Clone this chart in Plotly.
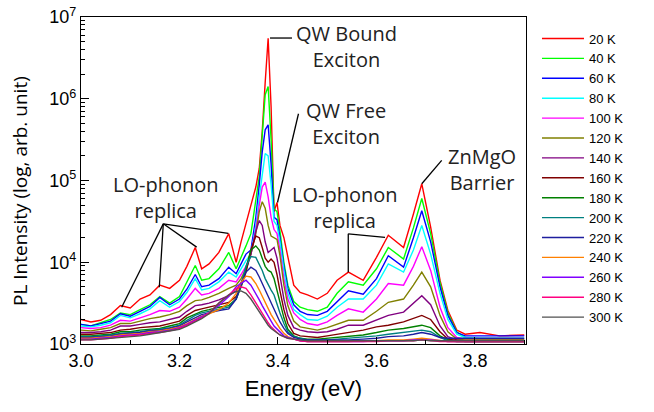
import numpy as np
import plotly.graph_objects as go

# Photon energy (eV) sampling positions
energy_ev = [3.000, 3.020, 3.040, 3.060, 3.080, 3.100, 3.120, 3.140, 3.160, 3.180,
             3.200, 3.215, 3.232, 3.245, 3.260, 3.280, 3.300, 3.315, 3.325, 3.335,
             3.345, 3.355, 3.362, 3.368, 3.374, 3.380, 3.386, 3.392, 3.398, 3.404,
             3.412, 3.420, 3.432, 3.445, 3.460, 3.480, 3.500, 3.520, 3.543, 3.573,
             3.600, 3.624, 3.655, 3.675, 3.692, 3.710, 3.729, 3.745, 3.763, 3.780,
             3.810, 3.850, 3.900]

# log10 of PL intensity (arb. unit), one list per temperature
log_pl_20K = [3.30, 3.27, 3.29, 3.36, 3.47, 3.44, 3.55, 3.60, 3.72, 3.68,
              3.78, 3.95, 4.18, 3.92, 3.98, 4.12, 4.35, 4.00, 4.25, 4.47,
              4.70, 4.92, 5.15, 5.60, 6.20, 6.74, 5.90, 4.62, 4.73, 4.45,
              4.30, 4.05, 3.72, 3.63, 3.60, 3.55, 3.62, 3.78, 3.88, 3.78,
              4.06, 4.33, 4.18, 4.59, 4.96, 4.43, 3.78, 3.41, 3.17, 3.12,
              3.14, 3.10, 3.11]
log_pl_40K = [3.24, 3.22, 3.26, 3.30, 3.38, 3.36, 3.42, 3.48, 3.58, 3.50,
              3.58, 3.75, 3.96, 3.78, 3.80, 3.92, 4.12, 3.92, 4.05, 4.20,
              4.35, 4.75, 5.05, 5.55, 6.05, 6.15, 5.50, 4.65, 4.62, 4.38,
              4.00, 3.72, 3.52, 3.45, 3.42, 3.40, 3.45, 3.62, 3.76, 3.72,
              3.92, 4.18, 4.04, 4.42, 4.78, 4.35, 3.75, 3.38, 3.15, 3.08,
              3.05, 3.06, 3.05]
log_pl_60K = [3.24, 3.22, 3.25, 3.28, 3.37, 3.34, 3.40, 3.46, 3.57, 3.48,
              3.55, 3.67, 3.85, 3.70, 3.72, 3.80, 3.94, 3.86, 3.98, 4.10,
              4.15, 4.55, 4.95, 5.35, 5.62, 5.68, 5.20, 4.55, 4.52, 4.30,
              3.95, 3.68, 3.48, 3.40, 3.36, 3.35, 3.40, 3.52, 3.65, 3.61,
              3.80, 4.08, 3.94, 4.30, 4.63, 4.25, 3.70, 3.35, 3.14, 3.10,
              3.10, 3.10, 3.10]
log_pl_80K = [3.22, 3.21, 3.23, 3.26, 3.35, 3.32, 3.37, 3.43, 3.53, 3.45,
              3.52, 3.63, 3.80, 3.66, 3.68, 3.76, 3.88, 3.82, 3.92, 4.02,
              4.10, 4.45, 4.80, 5.10, 5.33, 5.30, 4.95, 4.50, 4.45, 4.25,
              3.90, 3.62, 3.42, 3.36, 3.30, 3.29, 3.34, 3.45, 3.55, 3.55,
              3.72, 3.98, 3.88, 4.15, 4.45, 4.10, 3.62, 3.30, 3.12, 3.08,
              3.07, 3.07, 3.07]
log_pl_100K = [3.20, 3.19, 3.20, 3.23, 3.29, 3.28, 3.32, 3.36, 3.41, 3.40,
               3.45, 3.55, 3.68, 3.60, 3.62, 3.68, 3.78, 3.76, 3.85, 3.95,
               4.10, 4.40, 4.70, 4.92, 4.98, 4.80, 4.55, 4.40, 4.35, 4.15,
               3.80, 3.55, 3.38, 3.30, 3.25, 3.23, 3.27, 3.35, 3.43, 3.39,
               3.55, 3.74, 3.72, 3.95, 4.19, 3.90, 3.45, 3.20, 3.08, 3.06,
               3.06, 3.06, 3.06]
log_pl_120K = [3.17, 3.16, 3.18, 3.20, 3.25, 3.25, 3.28, 3.31, 3.33, 3.36,
               3.40, 3.47, 3.53, 3.54, 3.57, 3.62, 3.68, 3.72, 3.80, 3.92,
               4.10, 4.35, 4.62, 4.74, 4.66, 4.45, 4.32, 4.30, 4.28, 4.08,
               3.72, 3.47, 3.28, 3.21, 3.19, 3.17, 3.20, 3.24, 3.29, 3.29,
               3.40, 3.51, 3.55, 3.72, 3.88, 3.70, 3.35, 3.15, 3.06, 3.05,
               3.05, 3.05, 3.05]
log_pl_140K = [3.14, 3.14, 3.15, 3.17, 3.22, 3.22, 3.24, 3.26, 3.27, 3.30,
               3.33, 3.40, 3.47, 3.48, 3.50, 3.54, 3.59, 3.65, 3.75, 3.90,
               4.10, 4.38, 4.51, 4.45, 4.25, 4.12, 4.15, 4.18, 4.05, 3.85,
               3.55, 3.35, 3.20, 3.17, 3.15, 3.14, 3.15, 3.18, 3.23, 3.23,
               3.29, 3.35, 3.39, 3.50, 3.59, 3.48, 3.22, 3.09, 3.05, 3.04,
               3.04, 3.04, 3.04]
log_pl_160K = [3.12, 3.12, 3.13, 3.14, 3.17, 3.18, 3.20, 3.21, 3.22, 3.25,
               3.28, 3.35, 3.41, 3.43, 3.45, 3.48, 3.51, 3.58, 3.70, 3.88,
               4.15, 4.32, 4.30, 4.18, 4.05, 4.00, 4.04, 4.00, 3.85, 3.65,
               3.42, 3.25, 3.13, 3.10, 3.09, 3.08, 3.10, 3.12, 3.14, 3.17,
               3.21, 3.23, 3.27, 3.31, 3.35, 3.30, 3.15, 3.06, 3.04, 3.03,
               3.03, 3.03, 3.03]
log_pl_180K = [3.10, 3.10, 3.11, 3.12, 3.15, 3.15, 3.17, 3.18, 3.19, 3.22,
               3.25, 3.32, 3.37, 3.40, 3.42, 3.45, 3.47, 3.55, 3.70, 3.92,
               4.15, 4.20, 4.15, 4.05, 3.95, 3.90, 3.88, 3.80, 3.65, 3.50,
               3.32, 3.18, 3.10, 3.07, 3.06, 3.06, 3.07, 3.08, 3.09, 3.11,
               3.14, 3.17, 3.19, 3.21, 3.23, 3.20, 3.10, 3.05, 3.03, 3.03,
               3.03, 3.03, 3.03]
log_pl_200K = [3.09, 3.09, 3.10, 3.11, 3.13, 3.14, 3.15, 3.17, 3.18, 3.20,
               3.23, 3.29, 3.35, 3.38, 3.40, 3.43, 3.45, 3.55, 3.72, 3.95,
               4.07, 4.06, 3.98, 3.90, 3.80, 3.72, 3.66, 3.60, 3.48, 3.38,
               3.25, 3.15, 3.09, 3.07, 3.05, 3.05, 3.05, 3.06, 3.07, 3.08,
               3.10, 3.12, 3.14, 3.16, 3.17, 3.15, 3.08, 3.04, 3.03, 3.03,
               3.03, 3.03, 3.03]
log_pl_220K = [3.08, 3.08, 3.09, 3.10, 3.12, 3.13, 3.14, 3.16, 3.17, 3.19,
               3.22, 3.27, 3.32, 3.36, 3.38, 3.41, 3.43, 3.55, 3.72, 3.88,
               3.94, 3.90, 3.82, 3.74, 3.65, 3.57, 3.49, 3.41, 3.34, 3.27,
               3.19, 3.13, 3.08, 3.06, 3.05, 3.05, 3.05, 3.05, 3.05, 3.06,
               3.07, 3.09, 3.10, 3.12, 3.14, 3.12, 3.08, 3.07, 3.07, 3.07,
               3.07, 3.07, 3.07]
log_pl_240K = [3.07, 3.07, 3.08, 3.09, 3.11, 3.12, 3.13, 3.15, 3.16, 3.18,
               3.21, 3.25, 3.30, 3.34, 3.37, 3.42, 3.50, 3.62, 3.75, 3.83,
               3.82, 3.74, 3.66, 3.58, 3.50, 3.43, 3.36, 3.30, 3.24, 3.19,
               3.13, 3.09, 3.06, 3.04, 3.03, 3.03, 3.03, 3.03, 3.03, 3.04,
               3.04, 3.05, 3.05, 3.06, 3.07, 3.06, 3.04, 3.03, 3.03, 3.03,
               3.03, 3.03, 3.03]
log_pl_260K = [3.06, 3.06, 3.07, 3.08, 3.10, 3.11, 3.12, 3.14, 3.15, 3.17,
               3.20, 3.24, 3.29, 3.33, 3.38, 3.47, 3.58, 3.70, 3.74, 3.78,
               3.72, 3.62, 3.54, 3.47, 3.40, 3.34, 3.28, 3.22, 3.18, 3.14,
               3.10, 3.08, 3.06, 3.04, 3.03, 3.03, 3.03, 3.03, 3.03, 3.03,
               3.04, 3.04, 3.04, 3.05, 3.05, 3.05, 3.04, 3.03, 3.03, 3.03,
               3.03, 3.03, 3.03]
log_pl_280K = [3.05, 3.05, 3.06, 3.07, 3.09, 3.10, 3.11, 3.13, 3.14, 3.16,
               3.19, 3.23, 3.28, 3.32, 3.38, 3.50, 3.60, 3.68, 3.70, 3.68,
               3.60, 3.50, 3.43, 3.37, 3.31, 3.26, 3.21, 3.17, 3.14, 3.11,
               3.09, 3.07, 3.06, 3.04, 3.03, 3.03, 3.03, 3.03, 3.03, 3.03,
               3.03, 3.04, 3.04, 3.04, 3.05, 3.04, 3.03, 3.03, 3.03, 3.03,
               3.03, 3.03, 3.03]
log_pl_300K = [3.05, 3.05, 3.06, 3.07, 3.08, 3.09, 3.10, 3.12, 3.14, 3.16,
               3.18, 3.22, 3.27, 3.31, 3.37, 3.50, 3.60, 3.64, 3.65, 3.62,
               3.55, 3.46, 3.40, 3.34, 3.28, 3.23, 3.19, 3.16, 3.13, 3.11,
               3.09, 3.07, 3.06, 3.05, 3.04, 3.04, 3.04, 3.04, 3.04, 3.04,
               3.04, 3.04, 3.04, 3.04, 3.05, 3.04, 3.04, 3.04, 3.04, 3.04,
               3.04, 3.04, 3.04]

temperature_labels = ["20 K", "40 K", "60 K", "80 K", "100 K", "120 K", "140 K",
                      "160 K", "180 K", "200 K", "220 K", "240 K", "260 K",
                      "280 K", "300 K"]
series_colors = ["#FF0000", "#00FF00", "#0000FF", "#00FFFF", "#FF00FF", "#808000",
                 "#800080", "#800000", "#008000", "#008080", "#1E1E9E", "#FF8000",
                 "#8000FF", "#FF0080", "#505050"]

x_tick_vals = [3.0, 3.2, 3.4, 3.6, 3.8]
x_tick_text = ["3.0", "3.2", "3.4", "3.6", "3.8"]
y_tick_vals = [1e3, 1e4, 1e5, 1e6, 1e7]
y_tick_text = ["10<sup>3</sup>", "10<sup>4</sup>", "10<sup>5</sup>",
               "10<sup>6</sup>", "10<sup>7</sup>"]

all_series = [log_pl_20K, log_pl_40K, log_pl_60K, log_pl_80K, log_pl_100K,
              log_pl_120K, log_pl_140K, log_pl_160K, log_pl_180K, log_pl_200K,
              log_pl_220K, log_pl_240K, log_pl_260K, log_pl_280K, log_pl_300K]

fig = go.Figure()
for name, color, logs in zip(temperature_labels, series_colors, all_series):
    fig.add_trace(go.Scatter(
        x=energy_ev, y=10 ** np.array(logs), mode="lines", name=name,
        line=dict(color=color, width=1.4)))

ANN_FONT = "Open Sans, Lato, sans-serif"
TICK_FONT = "Liberation Sans, Arial, sans-serif"

minor_y = [m * 10 ** d for d in range(3, 7) for m in range(2, 10)]

fig.update_layout(
    width=654, height=412,
    margin=dict(l=81, r=128, t=17, b=68),
    paper_bgcolor="white", plot_bgcolor="white",
    showlegend=True,
    legend=dict(x=1.0247, y=0.98, xanchor="left", yanchor="top",
                font=dict(family=TICK_FONT, size=13, color="black"),
                bgcolor="rgba(0,0,0,0)", tracegroupgap=0, itemwidth=42),
    xaxis=dict(range=[3.0, 3.9036], tickvals=x_tick_vals, ticktext=x_tick_text,
               automargin=False, ticklabeloverflow="allow",
               ticks="inside", ticklen=7, tickwidth=1.2, tickcolor="black",
               showline=True, linecolor="black", linewidth=1.3, mirror=True,
               showgrid=False, zeroline=False,
               minor=dict(tickvals=[3.1, 3.3, 3.5, 3.7, 3.9], ticks="inside",
                          ticklen=4, tickcolor="black", tickwidth=1.2),
               tickfont=dict(family=TICK_FONT, size=18, color="black"),
               title=dict(text="Energy (eV)", standoff=10,
                          font=dict(family=TICK_FONT, size=22, color="black"))),
    yaxis=dict(type="log", range=[3, 7], tickvals=y_tick_vals, ticktext=y_tick_text,
               automargin=False, ticklabeloverflow="allow",
               ticks="inside", ticklen=8, tickwidth=1.2, tickcolor="black",
               showline=True, linecolor="black", linewidth=1.3, mirror=True,
               showgrid=False, zeroline=False,
               minor=dict(tickvals=minor_y, ticks="inside", ticklen=4,
                          tickcolor="black", tickwidth=1.0),
               tickfont=dict(family=TICK_FONT, size=18, color="black")),
)

# y-axis title, placed where the reference puts it (slightly below centre)
fig.add_annotation(text="PL Intensity (log, arb. unit)", xref="paper", yref="paper",
                   x=-0.137, y=0.468, textangle=-90, showarrow=False,
                   xanchor="center", yanchor="middle",
                   font=dict(family=ANN_FONT, size=19, color="black"))

# Annotation leader lines (x in eV, y in intensity units)
leader_lines = [
    (3.3838, 5.53e6, 3.4284, 5.53e6),   # QW bound exciton
    (3.4416, 6.55e5, 3.3990, 5.38e4),   # QW free exciton
    (3.1671, 2.95e4, 3.0826, 2.82e3),   # LO-phonon replica (left)
    (3.1671, 2.95e4, 3.1590, 4.95e3),
    (3.1671, 2.95e4, 3.2349, 1.53e4),
    (3.1671, 2.95e4, 3.2991, 2.26e4),
    (3.5427, 7.55e3, 3.5427, 2.23e4),   # LO-phonon replica (right)
    (3.5427, 2.23e4, 3.6173, 2.02e4),
    (3.7324, 1.76e5, 3.6920, 9.12e4),   # ZnMgO barrier
]
for x0, y0, x1, y1 in leader_lines:
    fig.add_shape(type="line", xref="x", yref="y", x0=x0, y0=y0, x1=x1, y1=y1,
                  line=dict(color="black", width=1.3))

# Label positions (annotation y on a log axis is given as log10)
labels = [
    ("QW Bound<br>Exciton", 3.5395, 6.639),
    ("QW Free<br>Exciton", 3.5381, 5.703),
    ("LO-phonon<br>replica", 3.1726, 4.798),
    ("LO-phonon<br>replica", 3.5360, 4.664),
    ("ZnMgO<br>Barrier", 3.8136, 5.135),
]
for text, x, y in labels:
    fig.add_annotation(text=text, x=x, y=y, xref="x", yref="y", showarrow=False,
                       xanchor="center", yanchor="middle", align="center",
                       font=dict(family=ANN_FONT, size=20, color="#222222"))

# Remove the page's default body margin so the figure sits at the window's corner
fig.write_html("out.html", config={"displayModeBar": False},
               post_script="document.body.style.margin='0px';")
